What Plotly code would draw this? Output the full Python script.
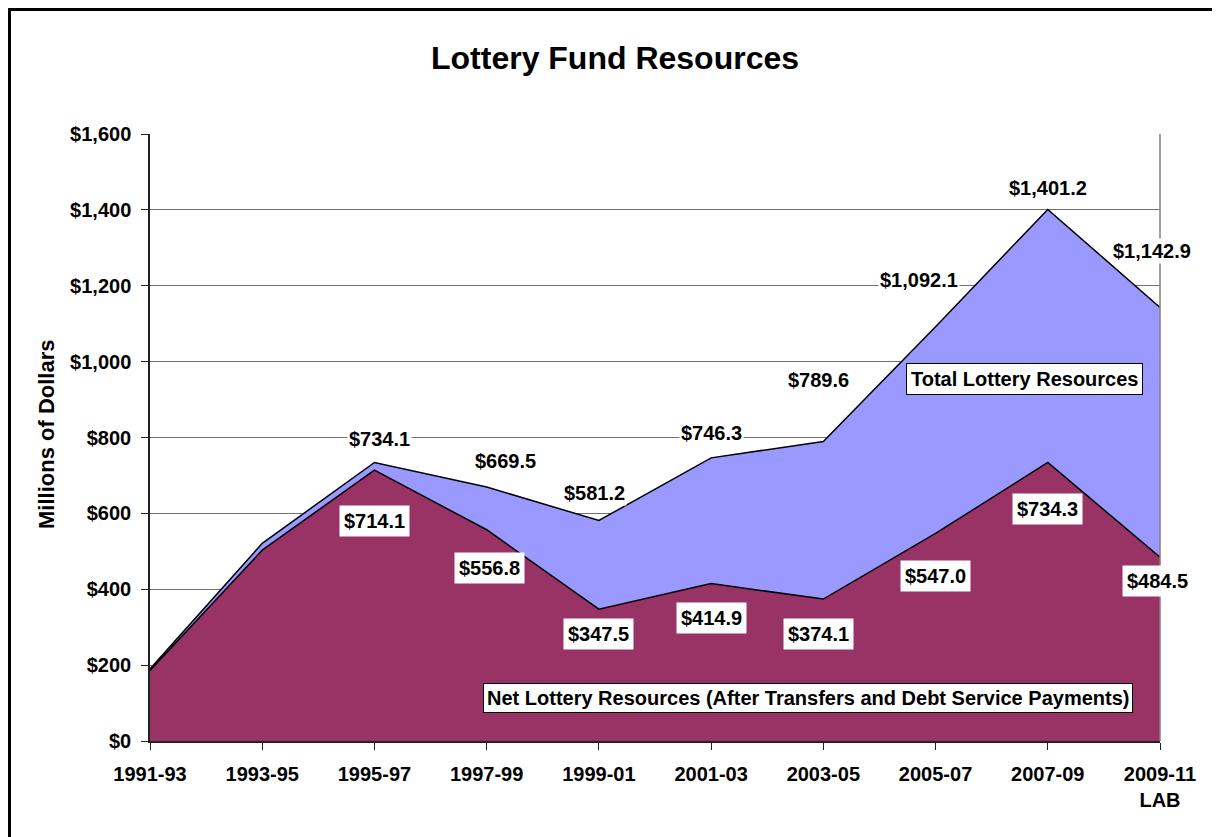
import plotly.graph_objects as go

periods = ["1991-93", "1993-95", "1995-97", "1997-99", "1999-01",
           "2001-03", "2003-05", "2005-07", "2007-09", "2009-11"]
tick_text = ["1991-93", "1993-95", "1995-97", "1997-99", "1999-01",
             "2001-03", "2003-05", "2005-07", "2007-09", "2009-11<br>LAB"]
total_resources = [190.0, 521.0, 734.1, 669.5, 581.2, 746.3, 789.6, 1092.1, 1401.2, 1142.9]
net_resources = [186.0, 503.0, 714.1, 556.8, 347.5, 414.9, 374.1, 547.0, 734.3, 484.5]

# which points get a value label, and pixel offsets of those labels
total_labelled = [False, False, True, True, True, True, True, True, True, True]
net_labelled = [False, False, True, True, True, True, True, True, True, True]
total_shift = [(0, 0), (0, 0), (5, 24), (19, 26), (-4, 28), (0, 25),
               (-5, 61), (-17, 47), (0, 21), (-8, 56)]
net_shift = [(0, 0), (0, 0), (0, -51), (3, -38), (0, -25), (0, -34),
             (-5, -35), (0, -43), (0, -47), (-3, -24)]

FONT = "Liberation Sans, Arial, sans-serif"
xs = list(range(len(periods)))

# page has an 8px body margin, so the figure starts at (8, 8)
W, H = 1212, 829
PL, PT, PR, PB = 142, 126, 60, 96
pw, ph = W - PL - PR, H - PT - PB


def px(x):  # page x -> paper x
    return (x - 8 - PL) / pw


def py(y):  # page y -> paper y
    return (H - PB - (y - 8)) / ph


fig = go.Figure()
fig.add_trace(go.Scatter(
    x=xs, y=total_resources, mode="lines", fill="tozeroy",
    fillcolor="#9999FF", line=dict(color="black", width=1.5),
    name="Total Lottery Resources", hovertemplate="%{y:$,.1f}<extra></extra>",
))
fig.add_trace(go.Scatter(
    x=xs, y=net_resources, mode="lines", fill="tozeroy",
    fillcolor="#993366", line=dict(color="black", width=1.5),
    name="Net Lottery Resources", hovertemplate="%{y:$,.1f}<extra></extra>",
))

label_font = dict(family=FONT, size=20, color="black", weight="bold")
annotations = []
for i, v in enumerate(total_resources):
    if total_labelled[i]:
        dx, dy = total_shift[i]
        annotations.append(dict(
            x=i, y=v, text="${:,.1f}".format(v), showarrow=False,
            xshift=dx, yshift=dy, bgcolor="white", borderpad=1, font=label_font,
        ))
for i, v in enumerate(net_resources):
    if net_labelled[i]:
        dx, dy = net_shift[i]
        annotations.append(dict(
            x=i, y=v, text="${:,.1f}".format(v), showarrow=False,
            xshift=dx, yshift=dy, bgcolor="white", borderpad=4, font=label_font,
        ))

# in-chart series labels
annotations.append(dict(
    xref="paper", yref="paper", x=px(1024), y=py(379), xanchor="center", yanchor="middle",
    text="Total Lottery Resources", showarrow=False, bgcolor="white",
    bordercolor="black", borderwidth=1, borderpad=4, font=label_font,
))
annotations.append(dict(
    xref="paper", yref="paper", x=px(808), y=py(698), xanchor="center", yanchor="middle",
    text="Net Lottery Resources (After Transfers and Debt Service Payments)",
    showarrow=False, bgcolor="white", bordercolor="black", borderwidth=1, borderpad=3,
    font=dict(family=FONT, size=20, color="black", weight="bold"),
))
annotations.append(dict(
    xref="paper", yref="paper", x=px(46), y=py(435), xanchor="center", yanchor="middle",
    text="Millions of Dollars", textangle=-90, showarrow=False,
    font=dict(family=FONT, size=22, color="black", weight="bold"),
))

fig.update_layout(
    width=W, height=H,
    margin=dict(l=PL, r=PR, t=PT, b=PB),
    paper_bgcolor="white", plot_bgcolor="white",
    showlegend=False,
    title=dict(
        text="Lottery Fund Resources", x=(615 - 8) / W, xanchor="center",
        y=1 - (58 - 8) / H, yanchor="middle",
        font=dict(family=FONT, size=32, color="black", weight="bold"),
    ),
    xaxis=dict(
        range=[0, len(periods) - 1], tickmode="array", tickvals=xs, ticktext=tick_text,
        showgrid=False, zeroline=False, showline=True, linecolor="#222", linewidth=1.5,
        ticks="outside", ticklen=7, tickcolor="#222", ticklabelstandoff=7,
        tickfont=dict(family=FONT, size=20, color="black", weight="bold"),
    ),
    yaxis=dict(
        range=[0, 1600], dtick=200, tickprefix="$", tickformat=",",
        showgrid=True, gridcolor="#707070", gridwidth=1, zeroline=False,
        showline=True, linecolor="#222", linewidth=1.5,
        ticks="outside", ticklen=7, tickcolor="#222", ticklabelstandoff=6,
        tickfont=dict(family=FONT, size=20, color="black", weight="bold"),
    ),
    annotations=annotations,
    shapes=[
        dict(type="line", xref="paper", yref="paper", x0=1, x1=1, y0=0, y1=1,
             line=dict(color="#808080", width=1.5), layer="above"),
        dict(type="rect", xref="paper", yref="paper",
             x0=px(9.5), x1=px(1240), y0=py(860), y1=py(9.5),
             line=dict(color="black", width=3), fillcolor="rgba(0,0,0,0)"),
    ],
)

fig.write_html("out.html")
